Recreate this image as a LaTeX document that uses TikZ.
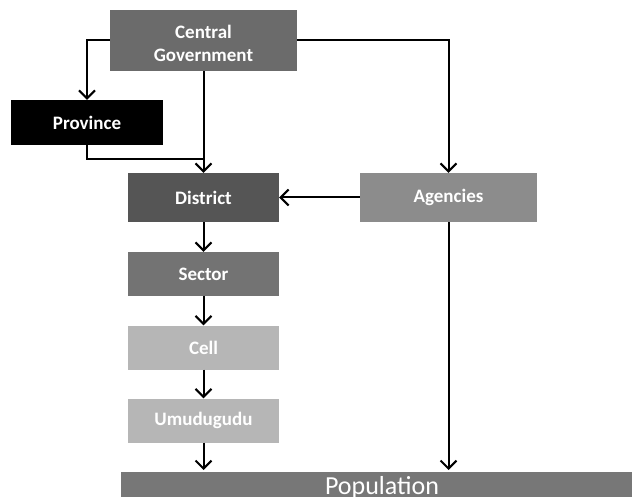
\documentclass[tikz,border=0pt]{standalone}
\usepackage{fontspec}
\setmainfont{Carlito}
\usetikzlibrary{arrows.meta}
\definecolor{cgov}{HTML}{6B6B6B}
\definecolor{dist}{HTML}{555555}
\definecolor{agen}{HTML}{8C8C8C}
\definecolor{sect}{HTML}{737373}
\definecolor{cellc}{HTML}{B6B6B6}
\definecolor{popc}{HTML}{777777}
\tikzset{
  box/.style={draw=none, text=white, font=\bfseries\fontsize{19}{23}\selectfont, align=center, inner sep=0pt},
  conn/.style={line width=2pt, -{Straight Barb[length=8pt,width=16pt,line width=2pt]}},
  plain/.style={line width=2pt}
}
\begin{document}
\begin{tikzpicture}[x=1pt,y=-1pt]
\useasboundingbox (0,0) rectangle (632,497);
\clip (0,0) rectangle (632,497);
\node[box, fill=cgov, minimum width=187pt, minimum height=61pt] (cg) at (203.5,40.5) {};
\node[box, anchor=center] (cgt) at (203.5,43.5) {Central\\Government};
\node[box, fill=black, minimum width=152pt, minimum height=45pt] (pr) at (87,122.5) {Province};
\node[box, fill=dist, minimum width=151pt, minimum height=49pt] (di) at (203.5,197.5) {District};
\node[box, fill=agen, minimum width=177pt, minimum height=49pt] (ag) at (448.5,197.5) {Agencies};
\node[box, fill=sect, minimum width=151pt, minimum height=44pt] (se) at (203.5,274) {Sector};
\node[box, fill=cellc, minimum width=151pt, minimum height=44pt] (ce) at (203.5,347.5) {Cell};
\node[box, fill=cellc, minimum width=151pt, minimum height=44pt] (um) at (203.5,420.5) {Umudugudu};
\fill[popc] (121,472) rectangle (660,520);
\node[text=white, font=\fontsize{26}{30}\selectfont, inner sep=0pt, anchor=base] (pop) at (382,494) {Population};
\coordinate (popL) at (203.5,470);
\coordinate (popR) at (448.5,470);
\draw[conn] (cg.west) -| (pr.north);
\draw[conn] (cg.east) -| (ag.north);
\draw[conn] (cg.south) -- (di.north);
\draw[plain] (pr.south) |- (203.5,159);
\draw[conn] (ag.west) -- (di.east);
\draw[conn] (di.south) -- (se.north);
\draw[conn] (se.south) -- (ce.north);
\draw[conn] (ce.south) -- (um.north);
\draw[conn] (um.south) -- (popL);
\draw[conn] (ag.south) -- (popR);
\end{tikzpicture}
\end{document}
